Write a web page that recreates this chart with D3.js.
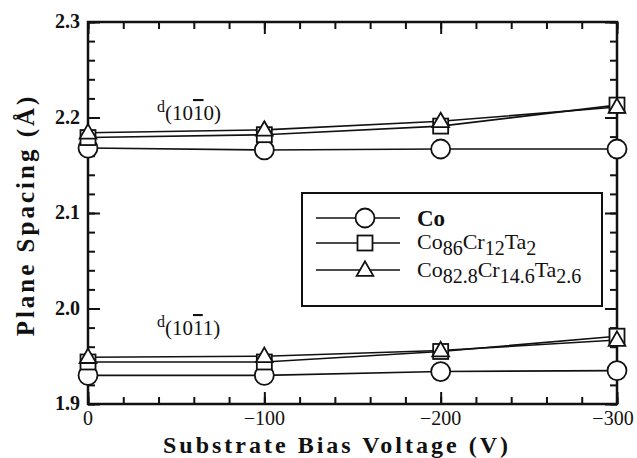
<!DOCTYPE html>
<meta charset="utf-8">
<script src="https://d3js.org/d3.v7.min.js"></script>
<style>
  body { margin: 0; background: #fff; }
  text { font-family: "Liberation Serif", "Times New Roman", serif; fill: #111; }
</style>
<svg id="chart" width="637" height="458"></svg>
<script>

// bias voltage (V)
var voltages = [0, -100, -200, -300];

// plane spacing d(10-10), Angstrom
var co_1010   = [2.168, 2.166, 2.167, 2.167];
var cct_1010  = [2.179, 2.182, 2.191, 2.213];
var ccct_1010 = [2.184, 2.187, 2.196, 2.211];

// plane spacing d(10-11), Angstrom
var co_1011   = [1.930, 1.930, 1.934, 1.935];
var cct_1011  = [1.944, 1.944, 1.955, 1.971];
var ccct_1011 = [1.949, 1.950, 1.956, 1.967];

var xTicks = [0, -100, -200, -300];
var yTicks = [1.9, 2.0, 2.1, 2.2, 2.3];

var svg = d3.select("#chart");
var mLeft = 88, mRight = 617, mTop = 22, mBottom = 404;

var x = d3.scaleLinear().domain([0, -300]).range([mLeft, mRight]);
var y = d3.scaleLinear().domain([1.9, 2.3]).range([mBottom, mTop]);

var ink = "#111";

// frame
svg.append("rect")
  .attr("x", mLeft).attr("y", mTop)
  .attr("width", mRight - mLeft).attr("height", mBottom - mTop)
  .attr("fill", "none").attr("stroke", ink).attr("stroke-width", 2.5);

// minor + major ticks, all pointing inward
var xMinor = d3.range(0, -301, -20);
var yMinor = d3.range(0, 21).map(function(i) { return +(1.9 + i * 0.02).toFixed(2); });

function tickGroup(axis, transform) {
  var g = svg.append("g").attr("transform", transform).call(axis);
  g.select(".domain").remove();
  g.selectAll("line").attr("stroke", ink).attr("stroke-width", 2);
  return g;
}

tickGroup(d3.axisBottom(x).tickValues(xMinor).tickSize(-7).tickFormat(""), "translate(0," + mBottom + ")");
tickGroup(d3.axisBottom(x).tickValues(xTicks).tickSize(-12).tickFormat(""), "translate(0," + mBottom + ")");
tickGroup(d3.axisTop(x).tickValues(xMinor).tickSize(-7).tickFormat(""), "translate(0," + mTop + ")");
tickGroup(d3.axisTop(x).tickValues(xTicks).tickSize(-12).tickFormat(""), "translate(0," + mTop + ")");
tickGroup(d3.axisLeft(y).tickValues(yMinor).tickSize(-7).tickFormat(""), "translate(" + mLeft + ",0)");
tickGroup(d3.axisLeft(y).tickValues(yTicks).tickSize(-12).tickFormat(""), "translate(" + mLeft + ",0)");
tickGroup(d3.axisRight(y).tickValues(yMinor).tickSize(-7).tickFormat(""), "translate(" + mRight + ",0)");
tickGroup(d3.axisRight(y).tickValues(yTicks).tickSize(-12).tickFormat(""), "translate(" + mRight + ",0)");

// tick labels
svg.append("g").selectAll("text")
  .data(xTicks).enter().append("text")
  .attr("x", function(d) { return d === -300 ? x(d) - 4 : x(d); })
  .attr("y", mBottom + 21)
  .attr("text-anchor", "middle")
  .attr("font-size", 20)
  .text(function(d) { return d === 0 ? "0" : "\u2212" + Math.abs(d); });

svg.append("g").selectAll("text")
  .data(yTicks).enter().append("text")
  .attr("x", mLeft - 8)
  .attr("y", function(d) { return y(d) + 6; })
  .attr("text-anchor", "end")
  .attr("font-size", 20)
  .attr("font-weight", "bold")
  .text(function(d) { return d.toFixed(1); });

// axis titles
svg.append("text")
  .attr("x", 337).attr("y", 453)
  .attr("text-anchor", "middle")
  .attr("font-size", 24).attr("font-weight", "bold")
  .attr("letter-spacing", 3)
  .text("Substrate Bias Voltage (V)");

svg.append("text")
  .attr("transform", "translate(34,215) rotate(-90)")
  .attr("text-anchor", "middle")
  .attr("font-size", 25).attr("font-weight", "bold")
  .attr("letter-spacing", 3)
  .text("Plane Spacing (\u00C5)");

// series
var series = [
  { name: "Co", shape: "circle", groups: [co_1010, co_1011] },
  { name: "cct", shape: "square", groups: [cct_1010, cct_1011] },
  { name: "ccct", shape: "triangle", groups: [ccct_1010, ccct_1011] }
];

var line = d3.line()
  .x(function(d) { return x(d.v); })
  .y(function(d) { return y(d.d); });

function marker(g, shape, cx, cy) {
  if (shape === "circle") {
    g.append("circle").attr("cx", cx).attr("cy", cy).attr("r", 9.5);
  } else if (shape === "square") {
    g.append("rect").attr("x", cx - 7.5).attr("y", cy - 7.5).attr("width", 15).attr("height", 15);
  } else {
    g.append("path").attr("d", d3.symbol().type(d3.symbolTriangle).size(120)())
      .attr("transform", "translate(" + cx + "," + (cy + 1) + ")");
  }
}

// lines first, then markers on top
series.forEach(function(s) {
  s.groups.forEach(function(vals) {
    var pts = vals.map(function(d, i) { return { v: voltages[i], d: d }; });
    svg.append("path").datum(pts)
      .attr("d", line)
      .attr("fill", "none").attr("stroke", ink).attr("stroke-width", 1.6);
  });
});
series.forEach(function(s) {
  s.groups.forEach(function(vals) {
    var g = svg.append("g").attr("fill", "#fff").attr("stroke", ink).attr("stroke-width", 1.8);
    vals.forEach(function(d, i) { marker(g, s.shape, x(voltages[i]), y(d)); });
  });
});

// peak annotations d(10-10), d(10-11)
function peakLabel(px, py, digits) {
  var t = svg.append("text").attr("x", px).attr("y", py).attr("font-size", 21);
  t.append("tspan").attr("font-size", 16).attr("dy", -8).text("d");
  t.append("tspan").attr("dy", 8).text("(10");
  t.append("tspan").attr("text-decoration", "overline").text("1");
  t.append("tspan").text(digits + ")");
}
peakLabel(157, 120, "0");
peakLabel(157, 335, "1");

// legend
var lg = svg.append("g");
lg.append("rect")
  .attr("x", 302).attr("y", 193).attr("width", 300).attr("height", 113)
  .attr("fill", "#fff").attr("stroke", ink).attr("stroke-width", 2);

var legendRows = [218, 243, 270];
series.forEach(function(s, i) {
  var ly = legendRows[i];
  lg.append("line").attr("x1", 316).attr("x2", 400).attr("y1", ly).attr("y2", ly)
    .attr("stroke", ink).attr("stroke-width", 1.6);
  var g = lg.append("g").attr("fill", "#fff").attr("stroke", ink).attr("stroke-width", 1.8);
  marker(g, s.shape, 365, ly);
});

lg.append("text").attr("x", 417).attr("y", 226).attr("font-size", 23).attr("font-weight", "bold").text("Co");

function formula(ly, parts) {
  var t = lg.append("text").attr("x", 417).attr("y", ly).attr("font-size", 22);
  parts.forEach(function(p, i) {
    t.append("tspan").attr("dy", i === 0 ? 0 : (i % 2 ? 6 : -6))
      .attr("font-size", i % 2 ? 20 : 22).text(p);
  });
}
formula(249, ["Co", "86", "Cr", "12", "Ta", "2"]);
formula(277, ["Co", "82.8", "Cr", "14.6", "Ta", "2.6"]);

</script>
